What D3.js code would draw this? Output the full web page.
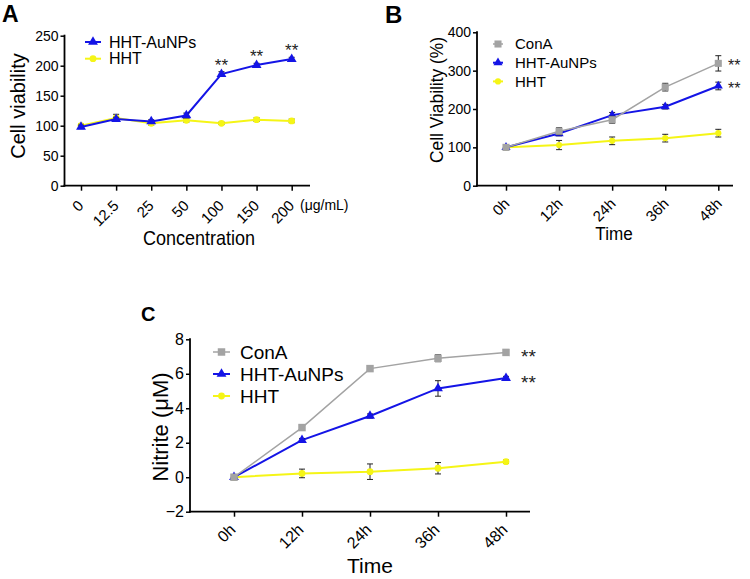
<!DOCTYPE html>
<html><head><meta charset="utf-8">
<script src="https://cdn.jsdelivr.net/npm/d3@7"></script>
<style>
html,body{margin:0;padding:0;background:#fff;}
svg{display:block;font-family:"Liberation Sans",Arial,sans-serif;}
</style></head>
<body>
<svg id="chart" width="750" height="579"></svg>
<script>
// ---- data ----
const concLabels = ["0","12.5","25","50","100","150","200"];
const aAuNPs     = [98, 111, 107, 117, 186, 201, 211];
const aAuNPsErr  = [3, 3, 3, 4, 4, 3, 3];
const aHHT       = [100, 113, 104, 109, 104, 110, 108];
const aHHTErr    = [3, 6, 3, 3, 2, 3, 3];
const aYTicks    = [0, 50, 100, 150, 200, 250];
const aStars     = ["", "", "", "", "**", "**", "**"];

const timeLabels = ["0h","12h","24h","36h","48h"];
const bConA      = [100, 142, 172, 257, 319];
const bConAErr   = [6, 9, 9, 10, 20];
const bAuNPs     = [100, 136, 184, 206, 260];
const bAuNPsErr  = [4, 6, 7, 6, 10];
const bHHT       = [100, 106, 117, 124, 137];
const bHHTErr    = [6, 12, 10, 10, 10];
const bYTicks    = [0, 100, 200, 300, 400];

const cConA      = [0, 2.88, 6.3, 6.9, 7.24];
const cConAErr   = [0.08, 0.1, 0.08, 0.2, 0.1];
const cAuNPs     = [0, 2.15, 3.55, 5.15, 5.75];
const cAuNPsErr  = [0.05, 0.1, 0.12, 0.45, 0.1];
const cHHT       = [0, 0.22, 0.32, 0.52, 0.9];
const cHHTErr    = [0.05, 0.25, 0.45, 0.33, 0.1];
const cYTicks    = [-2, 0, 2, 4, 6, 8];

const seriesNames = ["ConA", "HHT-AuNPs", "HHT"];
const colors = {"ConA":"#a3a3a3", "HHT-AuNPs":"#1414e6", "HHT":"#f5f516"};
const shapes = {"ConA":d3.symbolSquare, "HHT-AuNPs":d3.symbolTriangle, "HHT":d3.symbolCircle};

const svg = d3.select("#chart");

function panel(cfg) {
  const g = svg.append("g");
  const x = d3.scalePoint().domain(cfg.cats).range([cfg.x0, cfg.x1]);
  const y = d3.scaleLinear().domain(cfg.yDomain).range([cfg.yBottom, cfg.yTop]);

  // y axis
  const ya = g.append("g").attr("transform", `translate(${cfg.axX},0)`)
    .call(d3.axisLeft(y).tickValues(cfg.yTicks).tickSize(4).tickSizeOuter(0).tickPadding(2));
  ya.select(".domain").remove();
  ya.selectAll("line").attr("stroke", "#000").attr("stroke-width", 1.5);
  ya.selectAll("text").attr("font-size", cfg.yTickFont).attr("fill", "#000")
    .attr("font-family", "Liberation Sans, Arial, sans-serif");
  g.append("line").attr("x1", cfg.axX).attr("x2", cfg.axX)
    .attr("y1", y(cfg.yDomain[0]) + 1).attr("y2", y(cfg.yDomain[1]) - 1)
    .attr("stroke", "#000").attr("stroke-width", 1.8);

  // x axis
  const xa = g.append("g").attr("transform", `translate(0,${cfg.yBottom})`)
    .call(d3.axisBottom(x).tickSize(5).tickSizeOuter(0));
  xa.select(".domain").remove();
  xa.selectAll("line").attr("stroke", "#000").attr("stroke-width", 1.5);
  xa.selectAll("text").attr("font-size", cfg.xTickFont).attr("fill", "#000")
    .attr("font-family", "Liberation Sans, Arial, sans-serif")
    .attr("text-anchor", "end").attr("dy", 0)
    .attr("y", 0)
    .attr("transform", `translate(${cfg.lblDx},${cfg.lblDy}) rotate(-45)`);
  g.append("line").attr("x1", cfg.axX - 1).attr("x2", cfg.axEnd)
    .attr("y1", cfg.yBottom).attr("y2", cfg.yBottom)
    .attr("stroke", "#000").attr("stroke-width", 1.8);

  // series
  cfg.series.forEach(s => {
    const pts = s.values.map((v, i) => ({c: cfg.cats[i], v, e: s.err[i]}));
    g.append("path").datum(pts)
      .attr("fill", "none").attr("stroke", colors[s.name]).attr("stroke-width", s.lw)
      .attr("d", d3.line().x(d => x(d.c)).y(d => y(d.v)));
    const eb = g.append("g");
    pts.forEach(d => {
      const cx = x(d.c), t = y(d.v + d.e), b = y(d.v - d.e);
      eb.append("line").attr("x1", cx).attr("x2", cx).attr("y1", t).attr("y2", b)
        .attr("stroke", "#222").attr("stroke-width", 1);
      [t, b].forEach(yy => eb.append("line").attr("x1", cx - 3).attr("x2", cx + 3)
        .attr("y1", yy).attr("y2", yy).attr("stroke", "#222").attr("stroke-width", 1));
    });
    g.selectAll(null).data(pts).enter().append("path")
      .attr("transform", d => `translate(${x(d.c)},${y(d.v)})`)
      .attr("d", d3.symbol().type(shapes[s.name]).size(s.msize))
      .attr("fill", colors[s.name]);
  });

  // legend
  cfg.legend.forEach((name, i) => {
    const ly = cfg.legY + i * cfg.legGap;
    const s = cfg.series.find(q => q.name === name);
    g.append("line").attr("x1", cfg.legX).attr("x2", cfg.legX + cfg.legLen)
      .attr("y1", ly).attr("y2", ly).attr("stroke", colors[name]).attr("stroke-width", s.lw);
    g.append("path").attr("transform", `translate(${cfg.legX + cfg.legLen / 2},${ly})`)
      .attr("d", d3.symbol().type(shapes[name]).size(s.msize)).attr("fill", colors[name]);
    g.append("text").attr("x", cfg.legTextX).attr("y", ly).attr("dy", "0.36em")
      .attr("font-size", cfg.legFont).attr("fill", "#000").text(name);
  });

  // axis titles
  g.append("text")
    .attr("transform", `translate(${cfg.xTitle[0]},${cfg.xTitle[1]}) scale(${cfg.xTitleScale},1)`)
    .attr("text-anchor", "middle").attr("font-size", cfg.xTitleFont)
    .text(cfg.xTitleText);
  g.append("text")
    .attr("transform", `translate(${cfg.yTitle[0]},${cfg.yTitle[1]}) rotate(-90) scale(${cfg.yTitleScale},1)`)
    .attr("text-anchor", "middle").attr("font-size", cfg.yTitleFont)
    .text(cfg.yTitleText);

  // panel letter
  g.append("text").attr("x", cfg.letter[0]).attr("y", cfg.letter[1])
    .attr("font-size", cfg.letterFont).attr("font-weight", "bold").text(cfg.letterText);
  return {g, x, y};
}

// Panel A
const A = panel({
  cats: concLabels, x0: 81, x1: 291.7, axX: 64.5, axEnd: 310,
  yDomain: [0, 250], yTop: 35.7, yBottom: 185.7, yTicks: aYTicks, yTickFont: 14, xTickFont: 15,
  lblDx: 3, lblDy: 21,
  series: [
    {name: "HHT", values: aHHT, err: aHHTErr, lw: 2, msize: 36},
    {name: "HHT-AuNPs", values: aAuNPs, err: aAuNPsErr, lw: 2, msize: 42}
  ],
  legend: ["HHT-AuNPs", "HHT"], legX: 85, legLen: 16, legY: 42, legGap: 16.7,
  legTextX: 109, legFont: 16,
  xTitle: [199, 245], xTitleFont: 20, xTitleScale: 0.9, xTitleText: "Concentration",
  yTitle: [25, 106], yTitleFont: 20, yTitleScale: 1, yTitleText: "Cell viability",
  letter: [2, 22], letterFont: 23, letterText: "A"
});
A.g.append("text").attr("x", 300).attr("y", 210).attr("font-size", 14).attr("fill", "#000")
  .text("(\u03bcg/mL)");
A.g.selectAll(null).data(concLabels.map((c, i) => ({c, s: aStars[i], v: aAuNPs[i]})).filter(d => d.s))
  .enter().append("text")
  .attr("x", d => A.x(d.c)).attr("y", d => A.y(d.v) - 3)
  .attr("text-anchor", "middle").attr("font-size", 17).attr("fill", "#222").text(d => d.s);

// Panel B
const B = panel({
  cats: timeLabels, x0: 506, x1: 718.3, axX: 477, axEnd: 733,
  yDomain: [0, 400], yTop: 32.3, yBottom: 185.7, yTicks: bYTicks, yTickFont: 14, xTickFont: 15,
  lblDx: 4, lblDy: 19,
  series: [
    {name: "HHT", values: bHHT, err: bHHTErr, lw: 2, msize: 30},
    {name: "HHT-AuNPs", values: bAuNPs, err: bAuNPsErr, lw: 2, msize: 36},
    {name: "ConA", values: bConA, err: bConAErr, lw: 1.5, msize: 50}
  ],
  legend: ["ConA", "HHT-AuNPs", "HHT"], legX: 493, legLen: 10, legY: 44, legGap: 18.7,
  legTextX: 515, legFont: 15,
  xTitle: [614, 240], xTitleFont: 19, xTitleScale: 0.9, xTitleText: "Time",
  yTitle: [443, 100], yTitleFont: 18, yTitleScale: 0.965, yTitleText: "Cell Viability (%)",
  letter: [385, 23], letterFont: 24, letterText: "B"
});
[bConA, bAuNPs].forEach(arr => {
  B.g.append("text").attr("x", 728).attr("y", B.y(arr[4]) + 8)
    .attr("font-size", 16).attr("fill", "#222").text("**");
});

// Panel C
const C = panel({
  cats: timeLabels, x0: 234, x1: 506, axX: 190, axEnd: 530,
  yDomain: [-2, 8], yTop: 339.3, yBottom: 511.7, yTicks: cYTicks, yTickFont: 16, xTickFont: 16,
  lblDx: 2, lblDy: 19,
  series: [
    {name: "HHT", values: cHHT, err: cHHTErr, lw: 2, msize: 36},
    {name: "HHT-AuNPs", values: cAuNPs, err: cAuNPsErr, lw: 2, msize: 42},
    {name: "ConA", values: cConA, err: cConAErr, lw: 1.5, msize: 56}
  ],
  legend: ["ConA", "HHT-AuNPs", "HHT"], legX: 213, legLen: 17, legY: 352, legGap: 22,
  legTextX: 240, legFont: 19,
  xTitle: [370, 573], xTitleFont: 21, xTitleScale: 1, xTitleText: "Time",
  yTitle: [168, 427], yTitleFont: 22, yTitleScale: 1, yTitleText: "Nitrite (\u03bcM)",
  letter: [141, 321], letterFont: 20, letterText: "C"
});
[cConA, cAuNPs].forEach(arr => {
  C.g.append("text").attr("x", 521).attr("y", C.y(arr[4]) + 11)
    .attr("font-size", 19).attr("fill", "#222").text("**");
});
</script>
</body></html>
